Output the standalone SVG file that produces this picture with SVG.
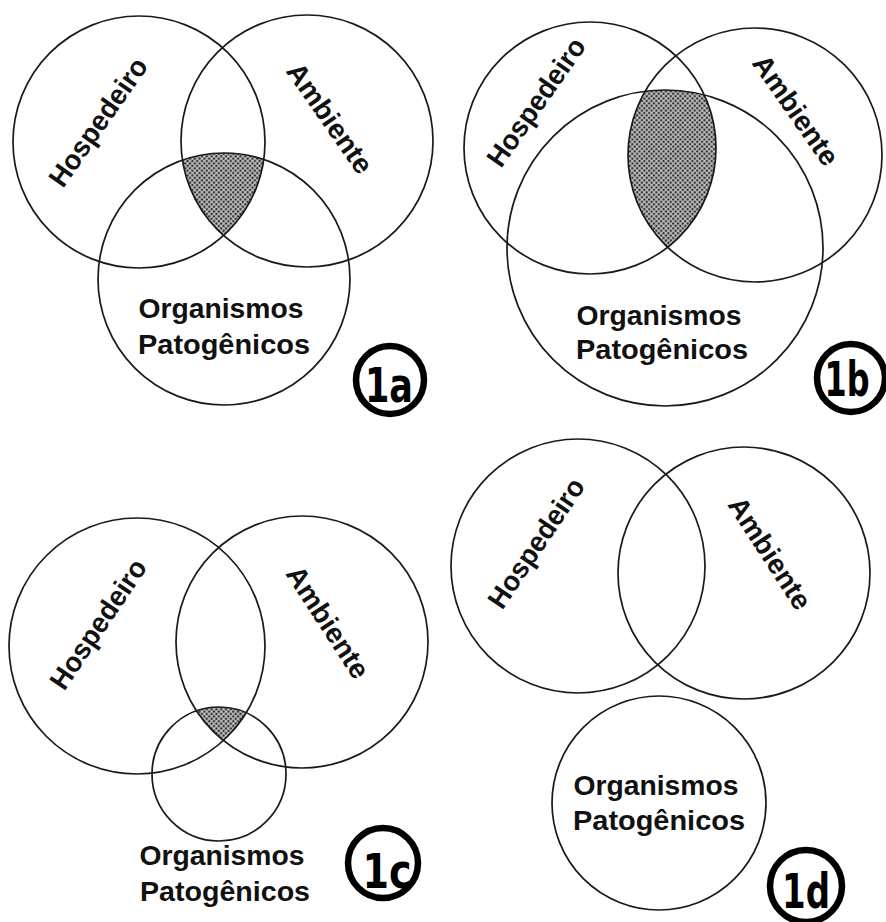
<svg xmlns="http://www.w3.org/2000/svg" width="886" height="922" viewBox="0 0 886 922">
<style>
.c{fill:none;stroke:#1a1a1a;stroke-width:1.7}
.t{font-family:"Liberation Sans",Arial,sans-serif;font-weight:bold;font-size:28px;fill:#111}
.lc{fill:none;stroke:#000;stroke-width:6.5}
.lt{font-family:"Liberation Sans Narrow","DejaVu Sans Condensed","Liberation Sans",sans-serif;font-weight:bold;font-size:48px;fill:#000;text-anchor:middle}
</style>
<defs>
<pattern id="dots" width="3.4" height="3.4" patternUnits="userSpaceOnUse" patternTransform="rotate(45)">
<rect width="3.4" height="3.4" fill="#c4c4c4"/>
<circle cx="1.7" cy="1.7" r="1.25" fill="#333"/>
</pattern>
<clipPath id="aA"><circle cx="307" cy="141" r="126"/></clipPath>
<clipPath id="aO"><circle cx="224" cy="279" r="126"/></clipPath>
<clipPath id="bA"><circle cx="755" cy="155" r="127"/></clipPath>
<clipPath id="bO"><circle cx="665" cy="248" r="158"/></clipPath>
<clipPath id="cA"><circle cx="302" cy="642" r="126"/></clipPath>
<clipPath id="cO"><circle cx="219" cy="774" r="67"/></clipPath>
</defs>
<rect width="886" height="922" fill="#fff"/>

<g id="panel-1a">
<g clip-path="url(#aA)"><g clip-path="url(#aO)"><circle cx="139" cy="142" r="126" fill="url(#dots)"/></g></g>
<g id="a-hospedeiro"><circle class="c" cx="139" cy="142" r="126"/>
<text class="t" x="98" y="122" dy="0.35em" text-anchor="middle" textLength="150" lengthAdjust="spacingAndGlyphs" transform="rotate(-55 98 122)">Hospedeiro</text></g>
<g id="a-ambiente"><circle class="c" cx="307" cy="141" r="126"/>
<text class="t" x="330" y="118" dy="0.35em" text-anchor="middle" textLength="128" lengthAdjust="spacingAndGlyphs" transform="rotate(55 330 118)">Ambiente</text></g>
<g id="a-organismos"><circle class="c" cx="224" cy="279" r="126"/>
<text class="t" x="221" y="318" text-anchor="middle" textLength="165" lengthAdjust="spacingAndGlyphs">Organismos</text>
<text class="t" x="224" y="354" text-anchor="middle" textLength="172" lengthAdjust="spacingAndGlyphs">Patogênicos</text></g>
<g id="label-1a"><circle class="lc" cx="390" cy="380" r="34"/><text class="lt" x="389" y="402" textLength="48" lengthAdjust="spacingAndGlyphs">1a</text></g>
</g>

<g id="panel-1b">
<g clip-path="url(#bA)"><g clip-path="url(#bO)"><circle cx="590" cy="148" r="126" fill="url(#dots)"/></g></g>
<g id="b-hospedeiro"><circle class="c" cx="590" cy="148" r="126"/>
<text class="t" x="536" y="102" dy="0.35em" text-anchor="middle" textLength="150" lengthAdjust="spacingAndGlyphs" transform="rotate(-55 536 102)">Hospedeiro</text></g>
<g id="b-ambiente"><circle class="c" cx="755" cy="155" r="127"/>
<text class="t" x="796" y="110" dy="0.35em" text-anchor="middle" textLength="128" lengthAdjust="spacingAndGlyphs" transform="rotate(55 796 110)">Ambiente</text></g>
<g id="b-organismos"><circle class="c" cx="665" cy="248" r="158"/>
<text class="t" x="659" y="325" text-anchor="middle" textLength="165" lengthAdjust="spacingAndGlyphs">Organismos</text>
<text class="t" x="662" y="359" text-anchor="middle" textLength="172" lengthAdjust="spacingAndGlyphs">Patogênicos</text></g>
<g id="label-1b"><circle class="lc" cx="851" cy="378" r="34"/><text class="lt" x="847" y="396" textLength="45" lengthAdjust="spacingAndGlyphs">1b</text></g>
</g>

<g id="panel-1c">
<g clip-path="url(#cA)"><g clip-path="url(#cO)"><circle cx="137" cy="646" r="128" fill="url(#dots)"/></g></g>
<g id="c-hospedeiro"><circle class="c" cx="137" cy="646" r="128"/>
<text class="t" x="98" y="624" dy="0.35em" text-anchor="middle" textLength="150" lengthAdjust="spacingAndGlyphs" transform="rotate(-56 98 624)">Hospedeiro</text></g>
<g id="c-ambiente"><circle class="c" cx="302" cy="642" r="126"/>
<text class="t" x="328" y="622" dy="0.35em" text-anchor="middle" textLength="128" lengthAdjust="spacingAndGlyphs" transform="rotate(57 328 622)">Ambiente</text></g>
<g id="c-organismos"><circle class="c" cx="219" cy="774" r="67"/>
<text class="t" x="222" y="865" text-anchor="middle" textLength="165" lengthAdjust="spacingAndGlyphs">Organismos</text>
<text class="t" x="225" y="901" text-anchor="middle" textLength="170" lengthAdjust="spacingAndGlyphs">Patogênicos</text></g>
<g id="label-1c"><circle class="lc" cx="383" cy="863" r="35"/><text class="lt" x="387" y="888" textLength="49" lengthAdjust="spacingAndGlyphs">1c</text></g>
</g>

<g id="panel-1d">
<g id="d-hospedeiro"><circle class="c" cx="578" cy="566" r="127"/>
<text class="t" x="536" y="543" dy="0.35em" text-anchor="middle" textLength="150" lengthAdjust="spacingAndGlyphs" transform="rotate(-56 536 543)">Hospedeiro</text></g>
<g id="d-ambiente"><circle class="c" cx="744" cy="573" r="126"/>
<text class="t" x="770" y="553" dy="0.35em" text-anchor="middle" textLength="128" lengthAdjust="spacingAndGlyphs" transform="rotate(57 770 553)">Ambiente</text></g>
<g id="d-organismos"><circle class="c" cx="659" cy="803" r="107"/>
<text class="t" x="656" y="795" text-anchor="middle" textLength="165" lengthAdjust="spacingAndGlyphs">Organismos</text>
<text class="t" x="659" y="830" text-anchor="middle" textLength="172" lengthAdjust="spacingAndGlyphs">Patogênicos</text></g>
<g id="label-1d"><circle class="lc" cx="806" cy="886" r="36"/><text class="lt" x="806" y="908" textLength="48" lengthAdjust="spacingAndGlyphs">1d</text></g>
</g>

<g id="connectors"></g>
</svg>
